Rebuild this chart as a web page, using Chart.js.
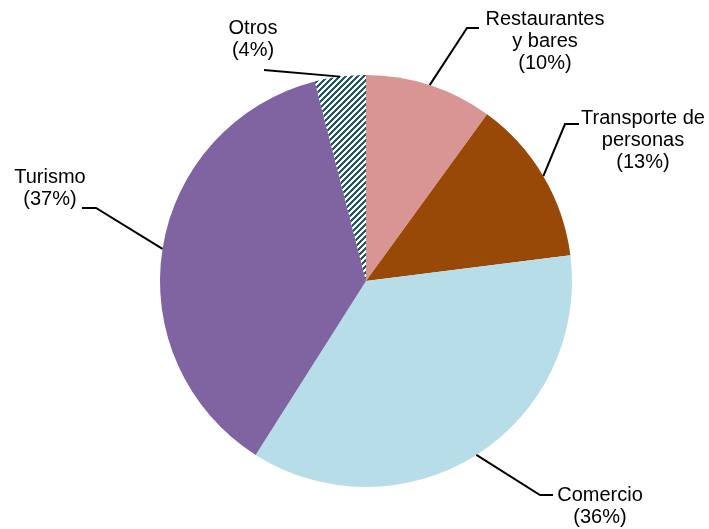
<!DOCTYPE html>
<html>
<head>
<meta charset="utf-8">
<script src="https://cdn.jsdelivr.net/npm/chart.js@4/dist/chart.umd.min.js"></script>
<style>
  html, body { margin: 0; padding: 0; background: #fff; }
  #wrap { width: 709px; height: 529px; }
</style>
</head>
<body>
<div id="wrap"><canvas id="chart" width="709" height="529"></canvas></div>
<script>
// Datos
const categorias = ['Restaurantes y bares', 'Transporte de personas', 'Comercio', 'Turismo', 'Otros'];
const valores = [10, 13, 36, 37, 4];
const etiquetas = [
    ['Restaurantes', 'y bares', '(10%)'],
    ['Transporte de', 'personas', '(13%)'],
    ['Comercio', '(36%)'],
    ['Turismo', '(37%)'],
    ['Otros', '(4%)']
];

// Rayado diagonal para "Otros"
function crearRayado(color) {
    const n = 6;
    const c = document.createElement('canvas');
    c.width = n; c.height = n;
    const g = c.getContext('2d');
    g.fillStyle = '#fff';
    g.fillRect(0, 0, n, n);
    for (let x = 0; x < n; x++) {
        for (let y = 0; y < n; y++) {
            const k = (x + y) % n;
            if (k < 3) { g.fillStyle = color; g.fillRect(x, y, 1, 1); }
        }
    }
    return g.createPattern(c, 'repeat');
}

const ctxTmp = document.getElementById('chart').getContext('2d');
const colores = ['#d99594', '#984807', '#b7dde8', '#8064a2', crearRayado('#215967')];

// Posiciones de las etiquetas: codo de la línea, fin de la línea y centro del texto
const posEtiquetas = [
    { codo: [467, 28], fin: [479, 28], texto: [545, 19] },
    { codo: [565, 124], fin: [579, 124], texto: [643, 118] },
    { codo: [540, 495], fin: [553, 495], texto: [600, 495] },
    { codo: [96, 208], fin: [82, 208], texto: [50, 177] },
    { codo: null, fin: [264, 70], texto: [253, 28] }
];

const etiquetasPlugin = {
    id: 'etiquetas',
    afterDraw(chart) {
        const ctx = chart.ctx;
        const arcos = chart.getDatasetMeta(0).data;
        ctx.save();
        ctx.font = '20px "Liberation Sans", Arial, sans-serif';
        ctx.fillStyle = '#000';
        ctx.strokeStyle = '#000';
        ctx.lineWidth = 2;
        ctx.textAlign = 'center';
        ctx.textBaseline = 'middle';
        arcos.forEach((arco, i) => {
            const p = arco.getProps(['x', 'y', 'startAngle', 'endAngle', 'outerRadius'], true);
            const ang = (p.startAngle + p.endAngle) / 2;
            const ax = p.x + Math.cos(ang) * p.outerRadius;
            const ay = p.y + Math.sin(ang) * p.outerRadius;
            const pos = posEtiquetas[i];
            ctx.beginPath();
            ctx.moveTo(ax, ay);
            if (pos.codo) ctx.lineTo(pos.codo[0], pos.codo[1]);
            ctx.lineTo(pos.fin[0], pos.fin[1]);
            ctx.stroke();
            etiquetas[i].forEach((linea, j) => {
                ctx.fillText(linea, pos.texto[0], pos.texto[1] + j * 22);
            });
        });
        ctx.restore();
    }
};

new Chart(ctxTmp, {
    type: 'pie',
    data: {
        labels: categorias,
        datasets: [{
            data: valores,
            backgroundColor: colores,
            borderWidth: 0
        }]
    },
    options: {
        responsive: false,
        animation: false,
        layout: { padding: { left: 160, right: 137, top: 75, bottom: 42 } },
        plugins: {
            legend: { display: false },
            tooltip: { enabled: false }
        }
    },
    plugins: [etiquetasPlugin]
});
</script>
</body>
</html>
